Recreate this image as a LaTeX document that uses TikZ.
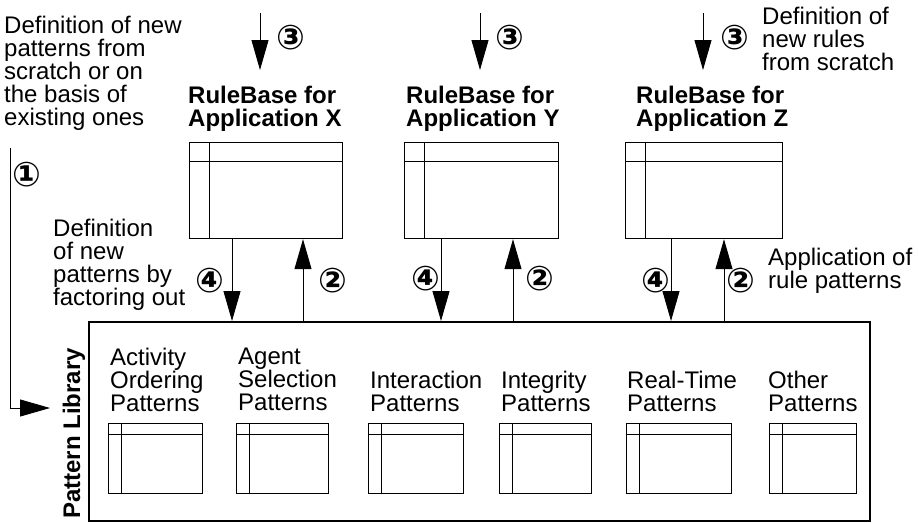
\documentclass[tikz,border=0pt]{standalone}
\usepackage{fontspec}
\setmainfont{Liberation Sans}
\newfontfamily\circfont{DejaVu Sans}
\usetikzlibrary{arrows.meta}
\tikzset{
  txt/.style={anchor=north west, inner sep=0pt, align=left, font=\fontsize{24}{23}\selectfont},
  ttl/.style={txt, font=\bfseries\fontsize{24}{23}\selectfont},
  num/.style={inner sep=0pt, font=\circfont\bfseries\fontsize{34}{34}\selectfont},
  arr/.style={line width=0.9pt, -{Triangle[length=30pt,width=17pt]}},
  win/.style 2 args={draw, line width=1.2pt, inner sep=0pt, anchor=north west,
    path picture={
      \draw[line width=1.2pt] ([yshift=-#1]path picture bounding box.north west) -- ([yshift=-#1]path picture bounding box.north east);
      \draw[line width=1.2pt] ([xshift=#2]path picture bounding box.north west) -- ([xshift=#2]path picture bounding box.south west);}},
  rulebox/.style={win={19pt}{20pt}, minimum width=153pt, minimum height=96pt},
  patbox/.style={win={11pt}{13pt}, minimum height=70pt},
}
\begin{document}
\begin{tikzpicture}[x=1pt,y=-1pt]
	\useasboundingbox (0,0) rectangle (918,522);
	% texts at the top
	\node[txt] at (4,16) (defpat) {Definition of new\\patterns from\\scratch or on\\the basis of\\existing ones};
	\node[txt] at (762,7) (defrule) {Definition of\\new rules\\from scratch};
	% the three rule bases
	\node[ttl] at (188,86) (titX) {RuleBase for\\Application X};
	\node[ttl] at (406,86) (titY) {RuleBase for\\Application Y};
	\node[ttl] at (636,86) (titZ) {RuleBase for\\Application Z};
	\node[rulebox] at (189,142) (rbX) {};
	\node[rulebox, minimum width=154pt] at (404,142) (rbY) {};
	\node[rulebox, minimum width=157pt] at (625,142) (rbZ) {};
	\coordinate (inX) at (260,13);
	\coordinate (inY) at (480,13);
	\coordinate (inZ) at (703,13);
	\draw[arr] (inX) -- ++(0,57);
	\draw[arr] (inY) -- ++(0,57);
	\draw[arr] (inZ) -- ++(0,57);
	\node[num] at (291,38) (n3x) {③};
	\node[num] at (510,38) (n3y) {③};
	\node[num] at (735,38) (n3z) {③};
	% pattern library
	\node[draw, line width=1.6pt, inner sep=0pt, anchor=north west, minimum width=781pt, minimum height=199pt] at (88,321) (lib) {};
	\node[ttl, rotate=90, anchor=base west] at (80,519) (libname) {Pattern Library};
	\node[patbox, minimum width=94pt] at (108,423) (pbAct) {};
	\node[patbox, minimum width=92pt] at (236,423) (pbAgt) {};
	\node[patbox, minimum width=95pt] at (368,423) (pbInt) {};
	\node[patbox, minimum width=92pt] at (499,423) (pbIgr) {};
	\node[patbox, minimum width=105pt] at (626,423) (pbRT) {};
	\node[patbox, minimum width=87pt] at (769,423) (pbOth) {};
	\node[txt] at (110,348) (labAct) {Activity\\Ordering\\Patterns};
	\node[txt] at (238,348) (labAgt) {Agent\\Selection\\Patterns};
	\node[txt] at (370,371) (labInt) {Interaction\\Patterns};
	\node[txt] at (501,371) (labIgr) {Integrity\\Patterns};
	\node[txt] at (627,371) (labRT) {Real-Time\\Patterns};
	\node[txt] at (768,371) (labOth) {Other\\Patterns};
	% new patterns into the library
	\coordinate (oneA) at (10,148);
	\coordinate (oneB) at (50,408);
	\draw[arr] (oneA) |- (oneB);
	\node[num] at (27,175) (n1) {①};
	\node[txt] at (53,219) (deffac) {Definition\\of new\\patterns by\\factoring out};
	\node[txt] at (768,248) (appl) {Application of\\rule patterns};
	% between rule bases and library
	\draw[arr] ([xshift=43pt]rbX.south west) -- ([xshift=43pt]rbX.south west |- lib.north);
	\draw[arr] ([xshift=114pt]rbX.south west |- lib.north) -- ([xshift=114pt]rbX.south west);
	\draw[arr] ([xshift=37pt]rbY.south west) -- ([xshift=37pt]rbY.south west |- lib.north);
	\draw[arr] ([xshift=109pt]rbY.south west |- lib.north) -- ([xshift=109pt]rbY.south west);
	\draw[arr] ([xshift=46pt]rbZ.south west) -- ([xshift=46pt]rbZ.south west |- lib.north);
	\draw[arr] ([xshift=99pt]rbZ.south west |- lib.north) -- ([xshift=99pt]rbZ.south west);
	\node[num] at (210,281) (n4x) {④};
	\node[num] at (333,281) (n2x) {②};
	\node[num] at (426,279) (n4y) {④};
	\node[num] at (540,279) (n2y) {②};
	\node[num] at (656,281) (n4z) {④};
	\node[num] at (741,281) (n2z) {②};
\end{tikzpicture}
\end{document}
